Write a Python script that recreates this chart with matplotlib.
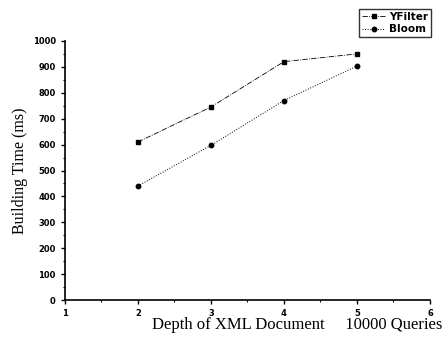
import numpy as np
import matplotlib.pyplot as plt
from matplotlib.ticker import MultipleLocator

# Data
depth = [2, 3, 4, 5]
yfilter = [610, 745, 920, 950]
bloom = [440, 597, 770, 903]

fig = plt.figure(figsize=(4.47, 3.41), dpi=100)
ax = fig.add_axes([0.145, 0.12, 0.817, 0.76])

ax.plot(depth, yfilter, marker="s", markersize=3.2, linestyle="-.",
        linewidth=0.6, color="black", label="YFilter")
ax.plot(depth, bloom, marker="o", markersize=3.2, linestyle=":",
        linewidth=0.7, color="black", label="Bloom")

ax.set_xlim(1, 6)
ax.set_ylim(0, 1000)
ax.xaxis.set_major_locator(MultipleLocator(1))
ax.xaxis.set_minor_locator(MultipleLocator(0.5))
ax.yaxis.set_major_locator(MultipleLocator(100))
ax.yaxis.set_minor_locator(MultipleLocator(50))

for side in ("top", "right"):
    ax.spines[side].set_visible(False)
for side in ("left", "bottom"):
    ax.spines[side].set_linewidth(1.2)

ax.tick_params(which="major", direction="out", length=3, width=1,
               labelsize=6)
ax.tick_params(which="minor", direction="out", length=1.5, width=0.8)
for lbl in ax.get_xticklabels() + ax.get_yticklabels():
    lbl.set_fontweight("bold")

leg = ax.legend(loc="upper right", bbox_to_anchor=(1.018, 1.145),
                fontsize=7.5, frameon=True, fancybox=False,
                handlelength=2.2, borderpad=0.3, labelspacing=0.25,
                handletextpad=0.4)
leg.get_frame().set_edgecolor("black")
leg.get_frame().set_linewidth(1.0)
for t in leg.get_texts():
    t.set_fontweight("bold")

fig.text(0.045, 0.5, "Building Time (ms)", rotation=90, va="center",
         ha="center", family="Liberation Serif", fontsize=11.5)
fig.text(0.665, 0.047, "Depth of XML Document     10000 Queries",
         ha="center", va="center", family="Liberation Serif", fontsize=12)

fig.savefig("out.png", dpi=100)
